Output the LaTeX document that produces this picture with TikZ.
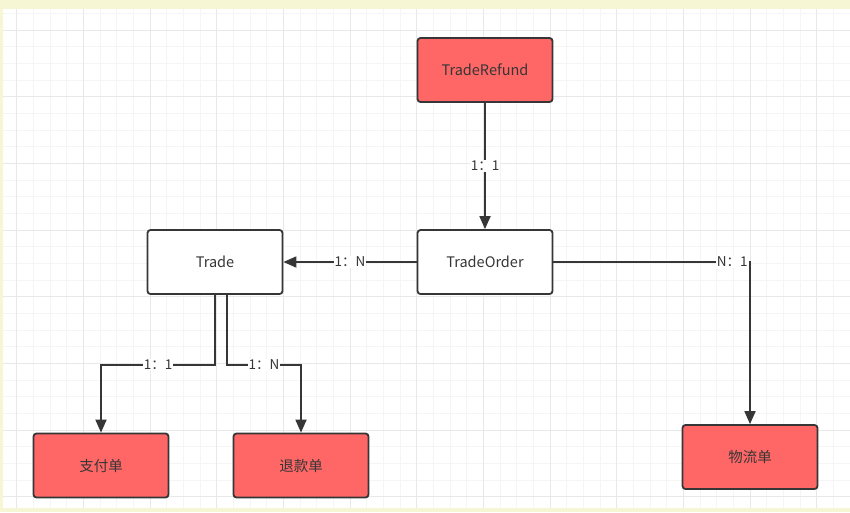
\documentclass[tikz,border=0pt]{standalone}
\usepackage{fontspec}
\setmainfont{Noto Sans CJK SC}
\usetikzlibrary{arrows.meta, positioning}

\definecolor{pageYellow}{RGB}{246,245,212}
\definecolor{gridMinor}{RGB}{245,245,245}
\definecolor{gridMajor}{RGB}{232,232,232}
\definecolor{entityRed}{RGB}{255,102,102}
\definecolor{inkGray}{RGB}{54,54,54}

\begin{document}
\begin{tikzpicture}[x=1pt, y=1pt, node distance=10pt, on grid, semithick]
	\tikzstyle{entity} = [draw=inkGray, line width=1.8pt, fill=white, rectangle, rounded corners=3pt, minimum height=64pt, minimum width=135pt, text=inkGray, font={\fontsize{14.5}{16}\selectfont}]
	\tikzstyle{entityHot} = [entity, fill=entityRed];
	\tikzstyle{relEdgePortion} = [draw=inkGray, line width=1.8pt];
	\tikzstyle{relEdge} = [relEdgePortion, -{Triangle[length=13pt, width=11pt]}];
	\tikzstyle{relLabel} = [fill=white, inner sep=1pt, text=inkGray, font={\fontsize{13.5}{15}\selectfont}];

	\useasboundingbox (0,0) rectangle (850,-512);
	% page and grid
	\fill[pageYellow] (0,0) rectangle (850,-512);
	\fill[white] (3,-9) rectangle (850,-508);
	\begin{scope}
		\clip (3,-9) rectangle (850,-508);
		\foreach \i in {0,...,51}
			\draw[gridMinor, line width=0.8pt] ({\i*50/3},-9) -- ({\i*50/3},-508);
		\foreach \i in {0,...,30}
			\draw[gridMinor, line width=0.8pt] (3,{-40/3-\i*50/3}) -- (850,{-40/3-\i*50/3});
		\foreach \i in {0,...,12}
			\draw[gridMajor, line width=0.8pt] ({50/3+\i*200/3},-9) -- ({50/3+\i*200/3},-508);
		\foreach \i in {0,...,7}
			\draw[gridMajor, line width=0.8pt] (3,{-30-\i*200/3}) -- (850,{-30-\i*200/3});
	\end{scope}

	\node[entity](trade) at (215,-262) {Trade};
	\node[entity](tradeorder) [right=270pt of trade] {TradeOrder};
	\node[entityHot](traderefund) [above=192pt of tradeorder] {TradeRefund};
	\node[entityHot](payorder) [below left=203.5pt and 114pt of trade] {支付单};
	\node[entityHot](refundorder) [below right=203.5pt and 86pt of trade] {退款单};
	\node[entityHot](logistics) [below right=195pt and 265pt of tradeorder] {物流单};

	\draw[relEdge] (traderefund) -- node[relLabel] {1：1} (tradeorder);
	\draw[relEdge] (tradeorder) -- node[relLabel] {1：N} (trade);
	\draw[relEdge] (tradeorder.east) -| node[relLabel, pos=0.455] {N：1} (logistics.north);
	\draw[relEdge] (trade.south) -- ++(0,-70) -| node[relLabel, pos=0.25] {1：1} (payorder.north);
	\draw[relEdge] ([xshift=12pt]trade.south) -- ++(0,-70) -| node[relLabel, pos=0.25] {1：N} (refundorder.north);
\end{tikzpicture}
\end{document}
